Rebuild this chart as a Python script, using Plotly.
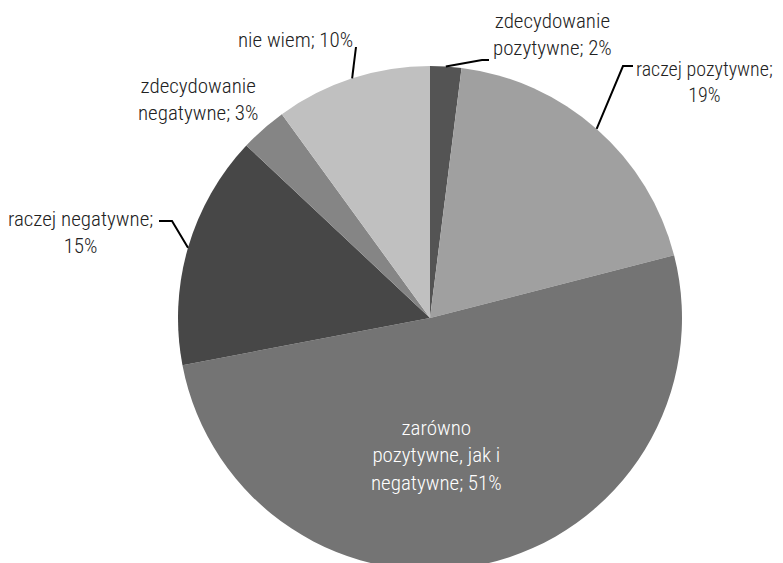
import math
import plotly.graph_objects as go

labels = ["zdecydowanie pozytywne", "raczej pozytywne", "zarówno pozytywne, jak i negatywne",
          "raczej negatywne", "zdecydowanie negatywne", "nie wiem"]
values = [2, 19, 51, 15, 3, 10]
colors = ["#545454", "#a0a0a0", "#747474", "#474747", "#858585", "#c0c0c0"]
label_texts = ["zdecydowanie<br>pozytywne; 2%", "raczej pozytywne;<br>19%", "zarówno<br>pozytywne, jak i<br>negatywne; 51%",
               "raczej negatywne;<br>15%", "zdecydowanie<br>negatywne; 3%", "nie wiem; 10%"]

OFF = 8             # page body margin
W, H = 767, 570
cx, cy, R = 430 - OFF, 318 - OFF, 252  # pie centre / radius in figure pixels

fig = go.Figure(go.Pie(
    labels=labels, values=values, sort=False, direction="clockwise", rotation=0,
    marker=dict(colors=colors, line=dict(width=0)), textinfo="none", hoverinfo="label+percent",
    domain=dict(x=[(cx - R) / W, (cx + R) / W], y=[(H - cy - R) / H, (H - cy + R) / H]),
    showlegend=False,
))

def px(x, y):
    """reference-image pixel -> paper coords"""
    return (x - OFF) / W, 1 - (y - OFF) / H

# slice mid-angle anchors on the rim (derived from data), in reference pixels
total = sum(values)
cum = 0
anchors = []
for v in values:
    mid = (cum + v / 2) / total * 2 * math.pi
    anchors.append((cx + OFF + R * math.sin(mid), cy + OFF - R * math.cos(mid)))
    cum += v

font = dict(family="Roboto Condensed", size=21, color="#222222", weight=300)

# label placements (x, centre y, xanchor, size) in reference pixels
pos = [(552, 34, "center", 21), (775, 82, "right", 20), (437, 455, "center", 21), (80, 232, "center", 21),
       (198, 99, "center", 21), (295, 40, "center", 21)]
for i, t in enumerate(label_texts):
    x, y = px(pos[i][0], pos[i][1])
    f = dict(font)
    f["size"] = pos[i][3]
    if i == 2:
        f["color"] = "#ffffff"
    fig.add_annotation(x=x, y=y, xref="paper", yref="paper", text=t, showarrow=False,
                       font=f, align="center", xanchor=pos[i][2], yanchor="middle")

# leader lines: rim anchor -> elbow -> end
elbows = {0: [(482, 60), (489, 60)], 1: [(623, 66), (633, 66)], 3: [(172, 221), (159, 221)], 5: [(356, 47)]}
for i, pts in elbows.items():
    ax, ay = anchors[i]
    path = "M {} {}".format(*px(ax, ay))
    for (x, y) in pts:
        path += " L {} {}".format(*px(x, y))
    fig.add_shape(type="path", path=path, xref="paper", yref="paper", line=dict(color="black", width=2))

fig.update_layout(width=W, height=H, margin=dict(l=0, r=0, t=0, b=0),
                  paper_bgcolor="white", plot_bgcolor="white")
fig.write_html("out.html")
